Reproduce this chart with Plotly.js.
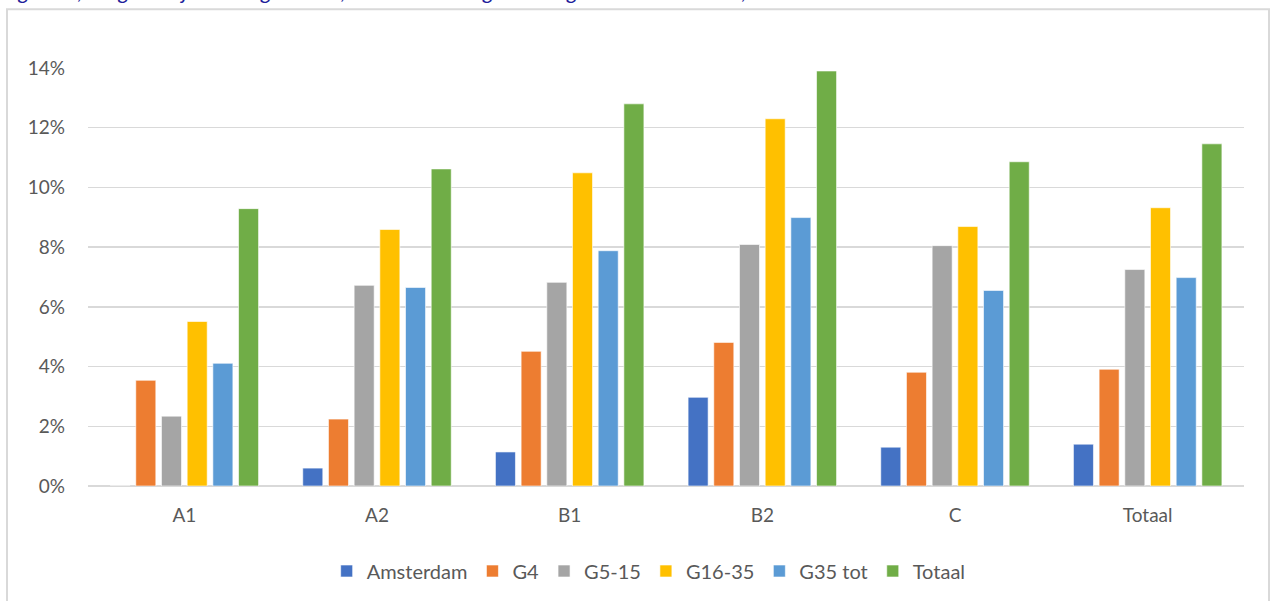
<!DOCTYPE html>
<html>
<head>
<meta charset="utf-8">
<script src="https://cdn.plot.ly/plotly-3.0.1.min.js"></script>
<style>html,body{margin:0;padding:0;background:#fff;}#chart{width:1272px;height:601px;}</style>
</head>
<body>
<div id="chart"></div>
<script>
const categories = ["A1", "A2", "B1", "B2", "C", "Totaal"];
const seriesNames = ["Amsterdam", "G4", "G5-15", "G16-35", "G35 tot", "Totaal"];
const amsterdam = [0, 0.0060, 0.0114, 0.0297, 0.0130, 0.0140];
const g4 = [0.0354, 0.0224, 0.0451, 0.0481, 0.0381, 0.0391];
const g5_15 = [0.0234, 0.0672, 0.0682, 0.0809, 0.0805, 0.0725];
const g16_35 = [0.0551, 0.0859, 0.1049, 0.1230, 0.0869, 0.0932];
const g35tot = [0.0411, 0.0665, 0.0788, 0.0899, 0.0655, 0.0698];
const totaal = [0.0929, 0.1062, 0.1280, 0.1390, 0.1086, 0.1146];
const yTicks = [0, 0.02, 0.04, 0.06, 0.08, 0.10, 0.12, 0.14];
const titleText = "Figuur 3, Toegankelijkheid segmenten, aandeel woningen naar grootte van de stad, 2019";

const colors = ["#4472C4", "#ED7D31", "#A5A5A5", "#FFC000", "#5B9BD5", "#70AD47"];
const values = [amsterdam, g4, g5_15, g16_35, g35tot, totaal];

const data = values.map((v, i) => ({
  type: "bar",
  name: seriesNames[i],
  x: categories,
  y: v,
  marker: {color: colors[i], line: {color: "rgba(255,255,255,0.6)", width: 1}},
  hoverinfo: "x+y+name"
}));

const layout = {
  width: 1272, height: 601,
  margin: {l: 88, r: 28, t: 68, b: 114},
  paper_bgcolor: "#fff", plot_bgcolor: "#fff",
  font: {family: "Lato, 'Open Sans', sans-serif", color: "#595959", size: 19},
  barmode: "group",
  bargap: 0.2,
  bargroupgap: 0.22,
  showlegend: true,
  legend: {orientation: "h", x: 0.485, xanchor: "center", y: (487 - 571) / 419, yanchor: "middle",
    font: {size: 20, color: "#595959"}, itemwidth: 30, tracegroupgap: 0},
  xaxis: {type: "category", showgrid: false, zeroline: false, showline: false,
    ticks: "", tickfont: {size: 19, color: "#595959"}, ticklabelstandoff: 16},
  yaxis: {range: [0, 0.14], tickvals: yTicks, tickformat: ".0%", showgrid: true,
    gridcolor: "#D9D9D9", gridwidth: 1.5, zeroline: true, zerolinecolor: "#D9D9D9", zerolinewidth: 1.5,
    showline: false, ticks: "", tickfont: {size: 19, color: "#595959"}, ticklabelstandoff: 22},
  shapes: [{type: "rect", xref: "paper", yref: "paper",
    x0: (7 - 88) / 1156, x1: (1269 - 88) / 1156, y0: (487 - 640) / 419, y1: (487 - 9) / 419,
    line: {color: "#D9D9D9", width: 2}, fillcolor: "rgba(0,0,0,0)", layer: "below"}],
  annotations: [{xref: "paper", yref: "paper", x: (0 - 88) / 1156, y: (487 - 6) / 419,
    xanchor: "left", yanchor: "bottom", showarrow: false, align: "left",
    text: "<i>" + titleText + "</i>", font: {family: "Lato, sans-serif", size: 22, color: "#1F1F9C"}}]
};

Plotly.newPlot("chart", data, layout, {displayModeBar: false, staticPlot: true});
</script>
</body>
</html>
